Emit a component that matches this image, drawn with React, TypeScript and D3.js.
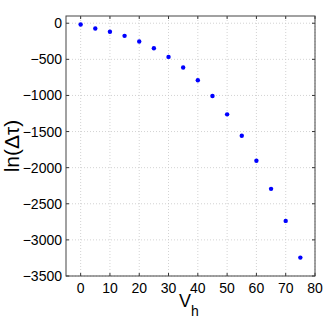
import React from "react";
import * as d3 from "d3";

const width = 328;
const height = 319;
const margin = { top: 16, right: 13, bottom: 43, left: 66 };

const vh = [0, 5, 10, 15, 20, 25, 30, 35, 40, 45, 50, 55, 60, 65, 70, 75];
const lnDt = [-18, -74, -119, -175, -254, -347, -466, -614, -790, -1007, -1262, -1558, -1904, -2293, -2737, -3245];
const xTicks = [0, 10, 20, 30, 40, 50, 60, 70, 80];
const yTicks = [0, -500, -1000, -1500, -2000, -2500, -3000, -3500];

const font = "Liberation Sans, Arial, Helvetica, sans-serif";

export default function App() {
  const x = d3.scaleLinear().domain([-5, 80]).range([margin.left, width - margin.right]);
  const y = d3.scaleLinear().domain([-3500, 100]).range([height - margin.bottom, margin.top]);
  const x0 = margin.left, x1 = width - margin.right;
  const y0 = height - margin.bottom, y1 = margin.top;
  const fmt = (v: number) => (v < 0 ? "\u2212" + Math.abs(v) : String(v));

  return (
    <svg width={width} height={height} style={{ position: "absolute", left: 0, top: 0 }}>
      <rect x={0} y={0} width={width} height={height} fill="#fff" />
      {/* grid */}
      {xTicks.map(t => (
        <line key={"gx" + t} x1={x(t)} x2={x(t)} y1={y0} y2={y1} stroke="#c8c8c8" strokeWidth={0.8} strokeDasharray="1,2" />
      ))}
      {yTicks.map(t => (
        <line key={"gy" + t} x1={x0} x2={x1} y1={y(t)} y2={y(t)} stroke="#c8c8c8" strokeWidth={0.8} strokeDasharray="1,2" />
      ))}
      {/* ticks */}
      {xTicks.map(t => (
        <g key={"tx" + t}>
          <line x1={x(t)} x2={x(t)} y1={y0} y2={y0 - 3} stroke="#333" />
          <line x1={x(t)} x2={x(t)} y1={y1} y2={y1 + 3} stroke="#333" />
          <text x={x(t)} y={y0 + 17} textAnchor="middle" fontFamily={font} fontSize={14} fill="#000">{fmt(t)}</text>
        </g>
      ))}
      {yTicks.map(t => (
        <g key={"ty" + t}>
          <line x1={x0} x2={x0 + 3} y1={y(t)} y2={y(t)} stroke="#333" />
          <line x1={x1} x2={x1 - 3} y1={y(t)} y2={y(t)} stroke="#333" />
          <text x={x0 - 4} y={y(t) + 5} textAnchor="end" fontFamily={font} fontSize={14} fill="#000">{fmt(t)}</text>
        </g>
      ))}
      <rect x={x0} y={y1} width={x1 - x0} height={y0 - y1} fill="none" stroke="#444" strokeWidth={1} />
      {/* points */}
      {vh.map((v, i) => (
        <circle key={i} cx={x(v)} cy={y(lnDt[i])} r={2.2} fill="#0000ff" />
      ))}
      {/* labels */}
      <text transform={`translate(19,146) rotate(-90)`} textAnchor="middle" fontFamily={font} fontSize={21} fill="#000">ln(Δτ)</text>
      <text x={189} y={307} textAnchor="middle" fontFamily={font} fontSize={18} fill="#000">
        V<tspan fontSize={14} dy={9}>h</tspan>
      </text>
    </svg>
  );
}
